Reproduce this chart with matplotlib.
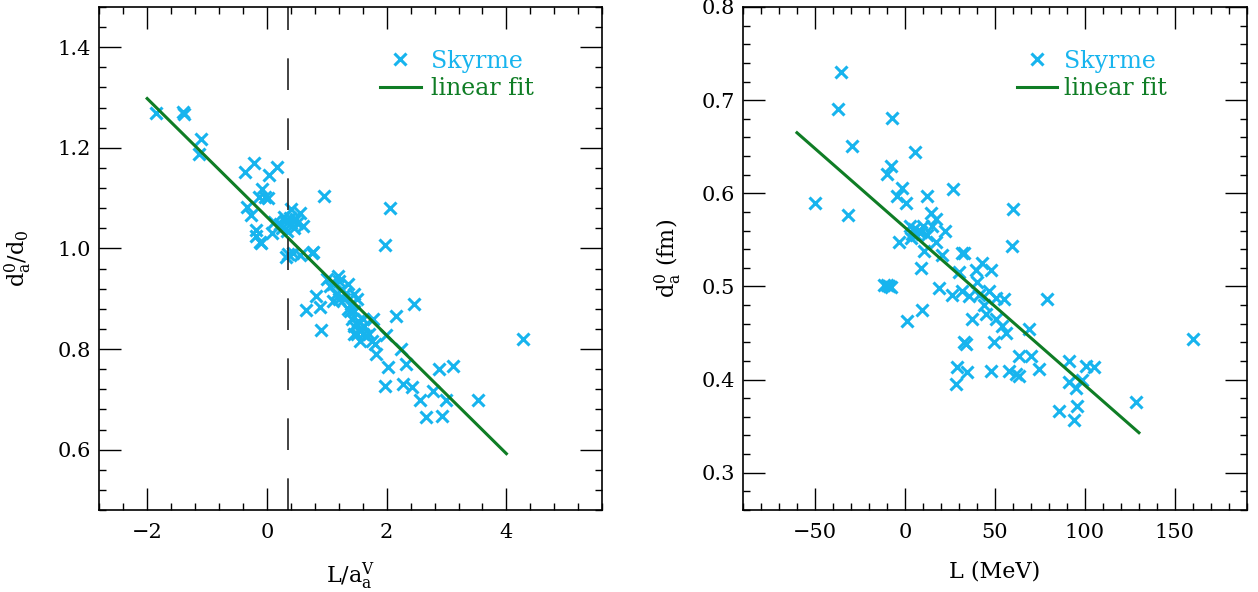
import matplotlib
matplotlib.use('Agg')
import matplotlib.pyplot as plt
from matplotlib.ticker import MultipleLocator

plt.rcParams['font.family'] = ['DejaVu Serif']
plt.rcParams['mathtext.fontset'] = 'dejavuserif'

SKY = '#17b4ee'
GREEN = '#0f7d25'

# Left panel: d_a^0/d_0 versus L/a_a^V
ratio_x = [-1.85, -1.40, -1.38, -1.10, -1.13, -0.36, -0.22, 0.03, 0.17, -0.08,
           -0.13, 0.01, -0.34, -0.26, -0.19, -0.10, 0.96, 0.22, 0.30, 0.38,
           0.45, 0.50, 0.60, 0.33, 0.26, 0.40, 0.55, 0.41, 0.35, 0.43,
           0.75, 0.32, 0.55, 0.77, -0.18, -0.12, -0.04, 2.05, 1.98, 1.00,
           1.10, 1.15, 1.20, 1.25, 1.30, 1.35, 1.45, 1.50, 1.40, 1.10,
           1.20, 0.82, 0.88, 0.66, 0.90, 2.46, 2.16, 1.38, 1.42, 1.45,
           1.50, 1.50, 1.55, 1.60, 1.45, 1.55, 1.65, 1.70, 1.75, 1.80,
           1.60, 1.45, 1.77, 1.82, 2.02, 1.99, 2.24, 2.32, 1.98, 2.27,
           2.43, 2.88, 3.10, 2.55, 2.77, 2.99, 2.66, 2.92, 3.52, 4.27,
           0.12, 0.08, 0.48, 0.28, 1.05, 1.18, 1.28, 1.52, 1.35, 1.62]
ratio_y = [1.269, 1.271, 1.268, 1.217, 1.188, 1.152, 1.170, 1.145, 1.162, 1.119,
           1.102, 1.101, 1.082, 1.066, 1.024, 1.011, 1.105, 1.048, 1.055, 1.060,
           1.040, 1.050, 1.045, 1.035, 1.040, 1.050, 1.070, 1.079, 0.989, 0.990,
           0.991, 0.983, 0.986, 0.993, 1.036, 1.013, 1.102, 1.080, 1.006, 0.940,
           0.930, 0.910, 0.935, 0.920, 0.910, 0.930, 0.910, 0.900, 0.890, 0.895,
           0.900, 0.906, 0.883, 0.878, 0.837, 0.889, 0.865, 0.875, 0.860, 0.845,
           0.850, 0.830, 0.840, 0.830, 0.830, 0.815, 0.825, 0.830, 0.815, 0.810,
           0.860, 0.875, 0.860, 0.790, 0.764, 0.827, 0.800, 0.771, 0.727, 0.731,
           0.724, 0.760, 0.767, 0.698, 0.717, 0.698, 0.664, 0.666, 0.699, 0.819,
           1.052, 1.030, 1.058, 1.062, 0.925, 0.945, 0.900, 0.855, 0.880, 0.845]
ratio_fit_x = [-2.0, 4.0]
ratio_fit_y = [1.298, 0.592]
ratio_marker = 0.36

# Right panel: d_a^0 versus L
slope_x = [-35.4, -37.2, -29.3, -50.0, -31.5, -7.4, 5.6, -9.8, -7.6, 26.8,
           12.4, -4.3, -1.5, 0.4, 14.3, 17.0, 3.0, 5.0, 7.0, 9.0,
           6.0, 10.0, 4.0, 12.0, -3.3, 3.1, 10.6, 17.0, 20.7, 31.8,
           8.7, 18.9, -9.8, -8.0, 59.6, 32.8, 30.0, 39.3, 43.0, 47.6,
           -8.9, -11.7, 26.3, 31.9, 35.6, 41.1, 46.7, 50.4, 55.0, 79.1,
           9.6, 1.3, 37.4, 44.8, 50.4, 54.0, 55.9, 68.9, 32.8, 33.7,
           49.4, 63.3, 69.8, 91.1, 100.4, 105.0, 74.4, 29.0, 34.6, 47.6,
           57.8, 61.5, 63.3, 28.2, 91.1, 94.8, 98.5, 85.6, 95.7, 93.9,
           160.0, 128.3, 60.0, 15.0, 40.0, 44.0, 22.0]
slope_y = [0.730, 0.690, 0.651, 0.590, 0.577, 0.681, 0.644, 0.621, 0.629, 0.605,
           0.597, 0.597, 0.606, 0.590, 0.579, 0.572, 0.565, 0.562, 0.560, 0.558,
           0.555, 0.565, 0.556, 0.555, 0.548, 0.552, 0.538, 0.548, 0.534, 0.536,
           0.520, 0.498, 0.502, 0.499, 0.543, 0.536, 0.515, 0.518, 0.525, 0.518,
           0.500, 0.502, 0.491, 0.495, 0.490, 0.491, 0.495, 0.488, 0.486, 0.486,
           0.475, 0.463, 0.465, 0.470, 0.465, 0.457, 0.450, 0.454, 0.440, 0.438,
           0.440, 0.425, 0.425, 0.420, 0.415, 0.413, 0.411, 0.413, 0.408, 0.409,
           0.409, 0.406, 0.404, 0.395, 0.397, 0.391, 0.400, 0.366, 0.372, 0.357,
           0.444, 0.376, 0.583, 0.565, 0.505, 0.480, 0.560]
slope_fit_x = [-60.0, 130.0]
slope_fit_y = [0.665, 0.343]

fig = plt.figure(figsize=(12.58, 5.92), dpi=100)
ax1 = fig.add_axes([0.0789, 0.1385, 0.3998, 0.8497])
ax2 = fig.add_axes([0.5906, 0.1385, 0.4006, 0.8497])


def style_axes(ax):
    ax.tick_params(which='both', direction='in', top=True, right=True,
                   labelsize=15, width=1.0)
    ax.tick_params(axis='x', pad=9)
    ax.tick_params(axis='y', pad=6)
    ax.tick_params(which='major', length=16)
    ax.tick_params(which='minor', length=5)
    for sp in ax.spines.values():
        sp.set_linewidth(1.2)


scatter_kw = dict(linestyle='none', marker='x', color=SKY, markersize=9,
                  markeredgewidth=2.2)

ax1.plot(ratio_x, ratio_y, label='Skyrme', **scatter_kw)
ax1.plot(ratio_fit_x, ratio_fit_y, color=GREEN, lw=2.2, label='linear fit')
ax1.axvline(ratio_marker, color='#222222', lw=1.2, linestyle=(0, (19, 17)))
ax1.set_xlim(-2.8, 5.6)
ax1.set_ylim(0.48, 1.48)
ax1.xaxis.set_major_locator(MultipleLocator(2))
ax1.xaxis.set_minor_locator(MultipleLocator(0.4))
ax1.yaxis.set_major_locator(MultipleLocator(0.2))
ax1.yaxis.set_minor_locator(MultipleLocator(0.04))
ax1.set_xlabel(r'L/$\mathrm{a_a^V}$', fontsize=16, labelpad=14)
ax1.set_ylabel(r'$\mathrm{d_a^0/d_0}$', fontsize=16, labelpad=17)
style_axes(ax1)

ax2.plot(slope_x, slope_y, label='Skyrme', **scatter_kw)
ax2.plot(slope_fit_x, slope_fit_y, color=GREEN, lw=2.2, label='linear fit')
ax2.set_xlim(-90, 190)
ax2.set_ylim(0.26, 0.8)
ax2.xaxis.set_major_locator(MultipleLocator(50))
ax2.xaxis.set_minor_locator(MultipleLocator(10))
ax2.yaxis.set_major_locator(MultipleLocator(0.1))
ax2.yaxis.set_minor_locator(MultipleLocator(0.02))
ax2.set_xlabel('L (MeV)', fontsize=16, labelpad=14)
ax2.set_ylabel(r'$\mathrm{d_a^0}$ (fm)', fontsize=16, labelpad=12)
style_axes(ax2)

# legends placed by their upper-left corner in axes coordinates
for ax, left, gap in ((ax1, 0.559, 0.45), (ax2, 0.544, 0.3)):
    leg = ax.legend(loc='upper left', bbox_to_anchor=(left, 0.915), frameon=False,
                    fontsize=17, handlelength=1.7, handletextpad=gap,
                    labelspacing=0.2, borderpad=0, borderaxespad=0)
    leg.get_texts()[0].set_color(SKY)
    leg.get_texts()[1].set_color(GREEN)

fig.savefig('out.png', dpi=100)
